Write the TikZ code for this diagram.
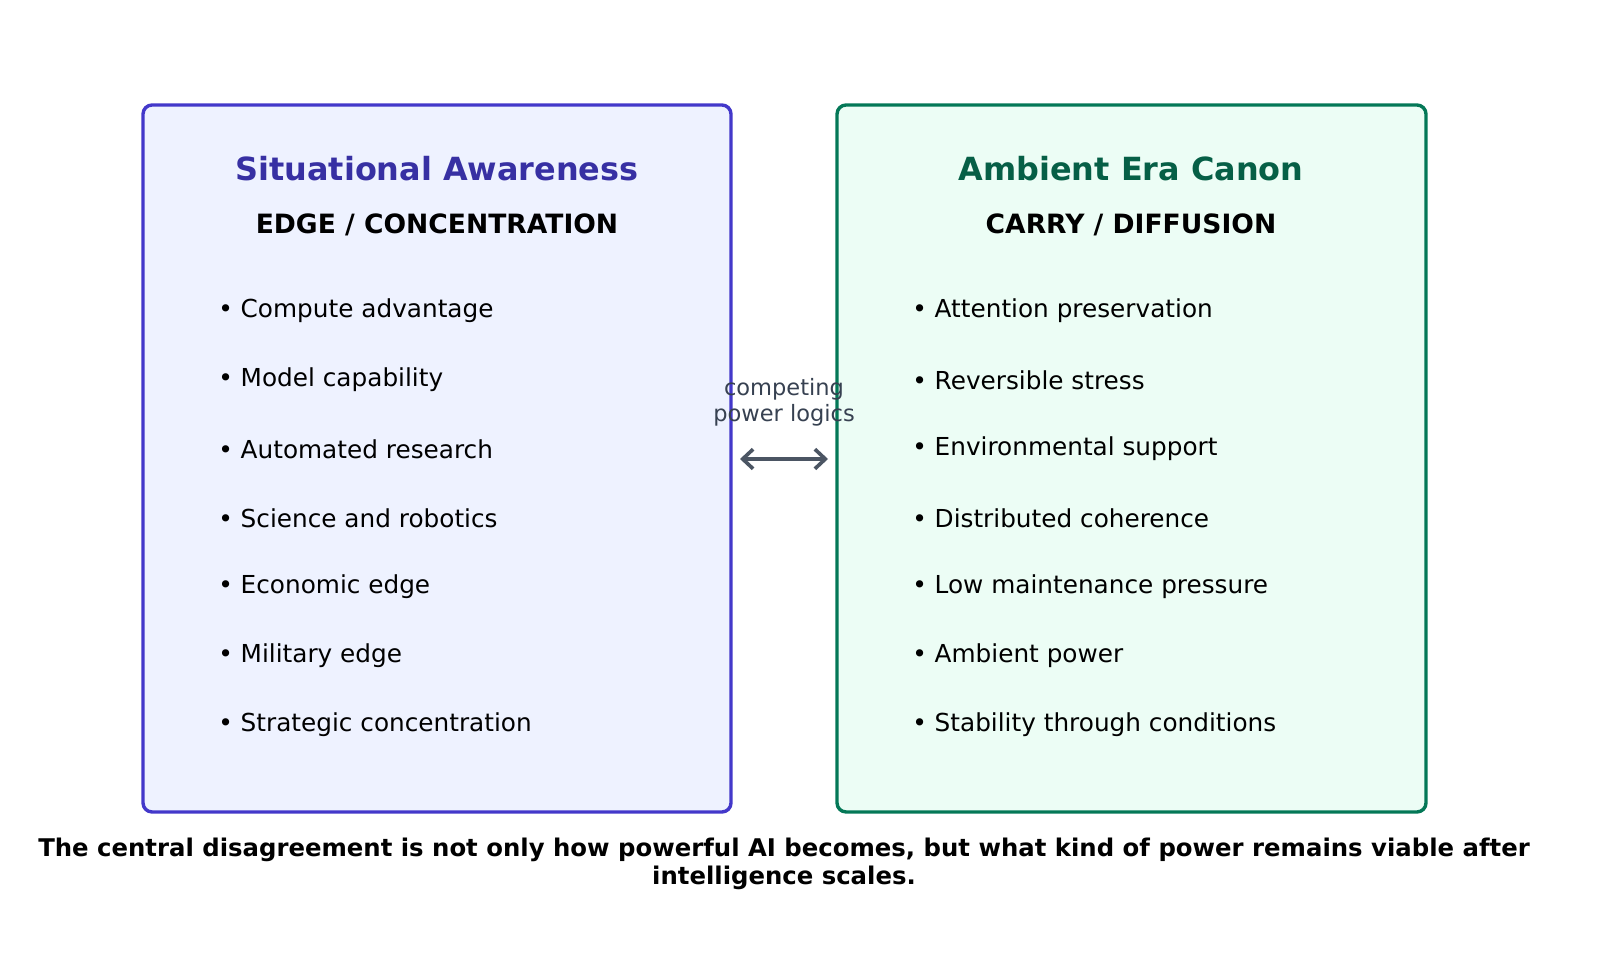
\documentclass[tikz,border=0pt]{standalone}
\usepackage{fontspec}
\setmainfont{DejaVu Sans}
\usetikzlibrary{positioning,arrows.meta}
\definecolor{edgeline}{HTML}{4338CA}
\definecolor{edgefill}{HTML}{EEF2FF}
\definecolor{edgetitle}{HTML}{3730A3}
\definecolor{carryline}{HTML}{047857}
\definecolor{carryfill}{HTML}{ECFDF5}
\definecolor{carrytitle}{HTML}{065F46}
\definecolor{linkgray}{HTML}{4B5563}
\definecolor{labelgray}{HTML}{374151}
\begin{document}
\begin{tikzpicture}[x=0.768pt,y=0.768pt,
  panel/.style={draw, line width=2.6pt, rounded corners=7pt},
  title/.style={font=\fontsize{24.5}{29}\selectfont\bfseries},
  subtitle/.style={font=\fontsize{20.4}{24}\selectfont\bfseries},
  item/.style={anchor=west, font=\fontsize{19}{23}\selectfont, inner sep=0pt}]
\useasboundingbox (0,0) rectangle (1600,977);
% panels
\draw[panel, edgeline, fill=edgefill] (143,165) rectangle (731,872);
\draw[panel, carryline, fill=carryfill] (837,165) rectangle (1426,872);
\node[title, edgetitle] (sa) at (437,808) {Situational Awareness};
\node[subtitle] (sasub) at (437,752) {EDGE / CONCENTRATION};
\node[title, carrytitle] (ae) at (1131,808) {Ambient Era Canon};
\node[subtitle] (aesub) at (1131,752) {CARRY / DIFFUSION};
% bullet lists
\foreach \t [count=\i] in {Compute advantage, Model capability, Automated research,
  Science and robotics, Economic edge, Military edge, Strategic concentration}
  \node[item] (l\i) at (218,666-69*\i+69) {• \t};
\foreach \t [count=\i] in {Attention preservation, Reversible stress, Environmental support,
  Distributed coherence, Low maintenance pressure, Ambient power, Stability through conditions}
  \node[item] (r\i) at (912,666-69*\i+69) {• \t};
% link between panels
\coordinate (la) at (740,518);
\coordinate (ra) at (828,518);
\draw[<->, line width=2.8pt, linkgray, >={Straight Barb[length=8pt,width=15pt]}] (la) -- (ra);
\node[font=\fontsize{17.3}{20}\selectfont, text=labelgray, align=center] (lbl) at (784,575)
  {competing\\power logics};
% caption
\node[font=\fontsize{18.7}{21.5}\selectfont\bfseries, align=center] (cap) at (784,113)
  {The central disagreement is not only how powerful AI becomes, but what kind of power remains viable after\\intelligence scales.};
\end{tikzpicture}
\end{document}
